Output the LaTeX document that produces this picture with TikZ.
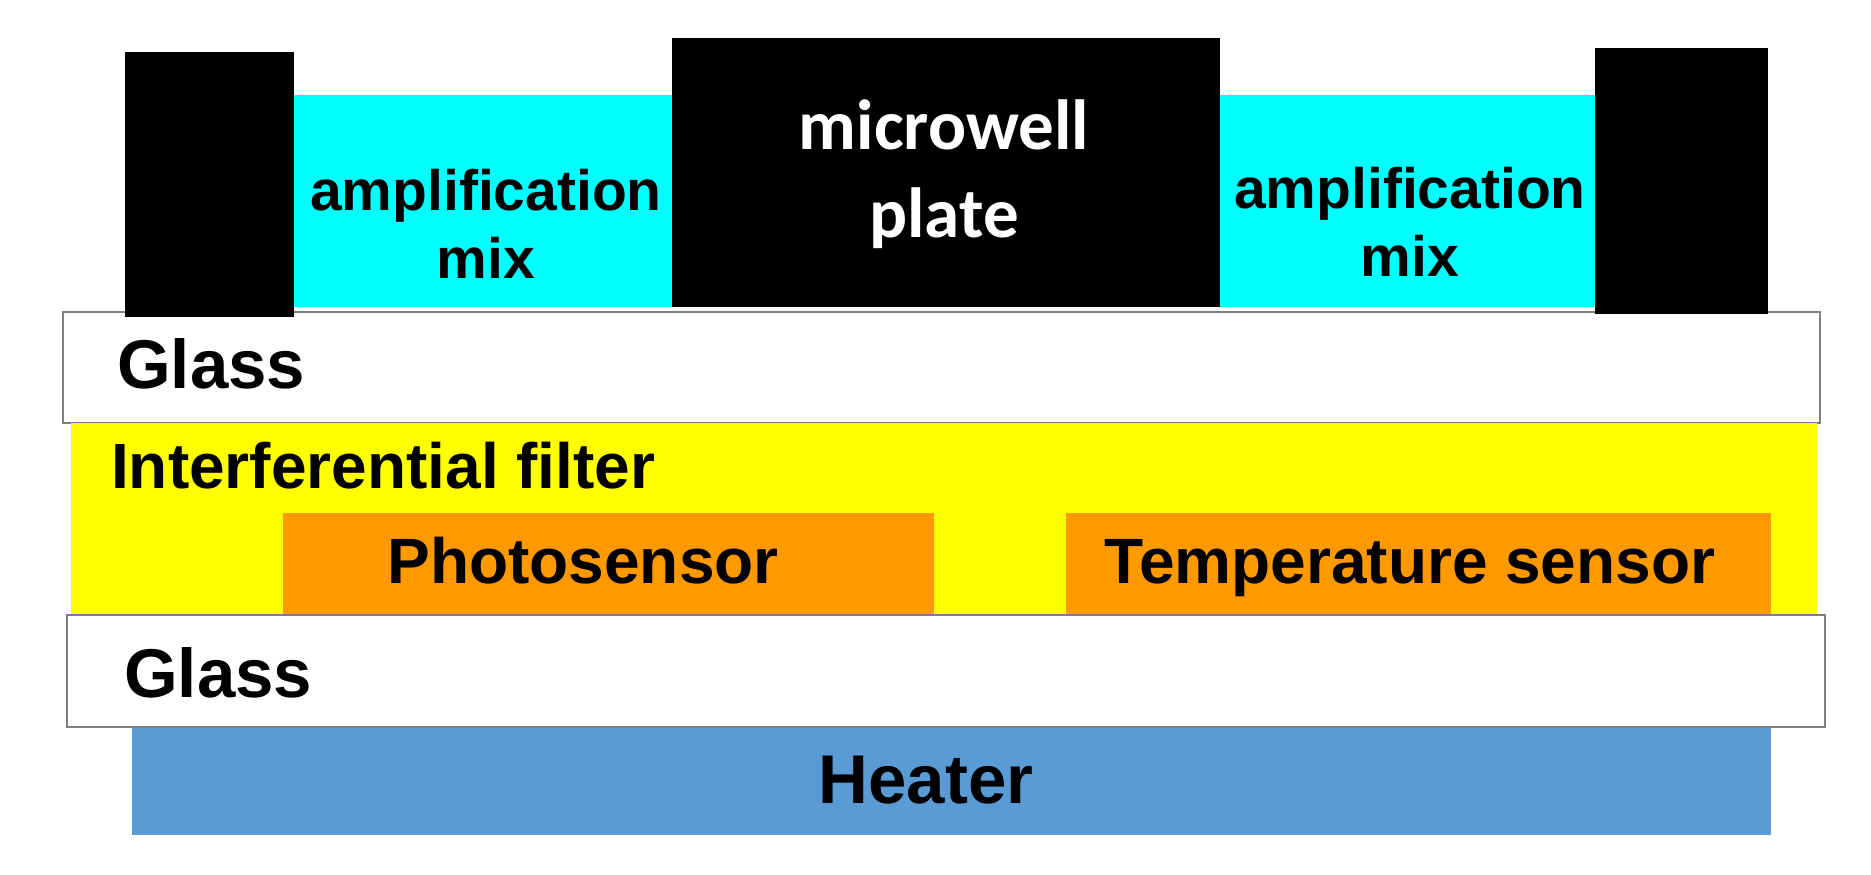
\documentclass[tikz,border=0pt]{standalone}
\usepackage{fontspec}
\setmainfont{Liberation Sans}
\newfontfamily\calibfont{Carlito}
\definecolor{mixcyan}{HTML}{00FFFF}
\definecolor{filteryellow}{HTML}{FFFF00}
\definecolor{sensororange}{HTML}{FF9900}
\definecolor{heaterblue}{HTML}{5B9BD5}
\definecolor{glassedge}{HTML}{7F7F7F}
\begin{document}
\begin{tikzpicture}[x=1pt,y=-1pt,
  glassbox/.style={draw=glassedge,line width=2.5pt,fill=white},
  txt/.style={inner sep=0pt,font=\bfseries\fontsize{64}{70}\selectfont},
  bigtxt/.style={inner sep=0pt,font=\bfseries\fontsize{69}{75}\selectfont},
  mixtxt/.style={inner sep=0pt,font=\bfseries\fontsize{57}{64}\selectfont},
  platetxt/.style={inner sep=0pt,text=white,font=\calibfont\bfseries\fontsize{71}{77}\selectfont}]
\useasboundingbox (0,0) rectangle (1871,875);
\fill[white] (0,0) rectangle (1871,875);
% upper glass
\draw[glassbox] (63,312) rectangle (1820,423);
% interferential filter
\fill[filteryellow] (71,423) rectangle (1817,615);
% sensors
\fill[sensororange] (283,513) rectangle (934,615);
\fill[sensororange] (1066,513) rectangle (1771,615);
% heater
\fill[heaterblue] (132,727) rectangle (1771,835);
% lower glass
\draw[glassbox] (67,615) rectangle (1825,727);
% amplification mix wells
\fill[mixcyan] (294,95) rectangle (672,307);
\fill[mixcyan] (1220,95) rectangle (1595,307);
% microwell plate parts
\fill[black] (125,52) rectangle (294,317);
\fill[black] (672,38) rectangle (1220,307);
\fill[black] (1595,48) rectangle (1768,314);
% labels
\node[mixtxt,anchor=base] (amp1a) at (486,210) {amplification};
\node[mixtxt,anchor=base] (amp1b) at (486,278) {mix};
\node[mixtxt,anchor=base] (amp2a) at (1410,208) {amplification};
\node[mixtxt,anchor=base] (amp2b) at (1410,276) {mix};
\node[platetxt,anchor=base] (plateA) at (944,149) {microwell};
\node[platetxt,anchor=base] (plateB) at (944,237) {plate};
\node[bigtxt,anchor=base west] (glass1) at (117,388) {Glass};
\node[txt,anchor=base west] (filter) at (111,488) {Interferential filter};
\node[txt,anchor=base] (photo) at (583,583) {Photosensor};
\node[txt,anchor=base] (temp) at (1410,583) {Temperature sensor};
\node[bigtxt,anchor=base west] (glass2) at (124,697) {Glass};
\node[bigtxt,anchor=base] (heater) at (926,803) {Heater};
\end{tikzpicture}
\end{document}
